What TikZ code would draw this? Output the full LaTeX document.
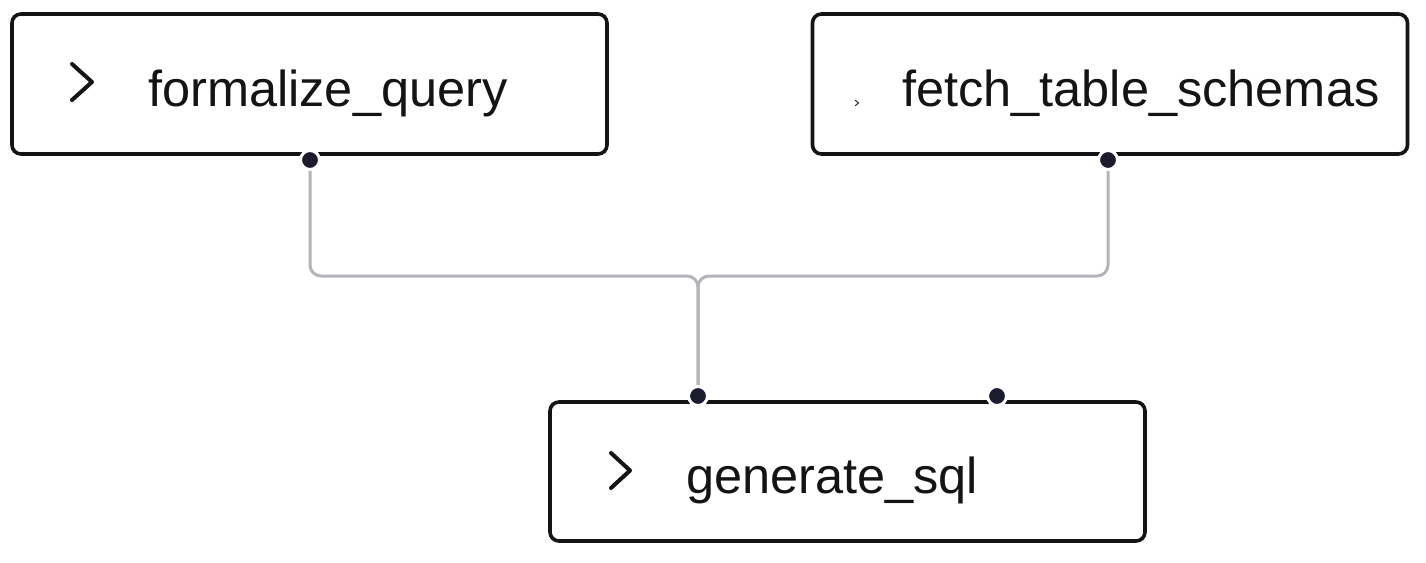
\documentclass[tikz,border=0pt]{standalone}
\usepackage{fontspec}
\setmainfont{Liberation Sans}
\definecolor{edgegray}{HTML}{B3B3BA}
\definecolor{dotnavy}{HTML}{1C1C2E}
\definecolor{inkc}{HTML}{141414}
\begin{document}
\begin{tikzpicture}[x=1pt,y=-1pt,
  box/.style={draw=inkc, line width=3.6pt, rounded corners=9pt, fill=white, minimum width=595pt, minimum height=140pt, inner sep=0pt},
  lbl/.style={anchor=base west, inner sep=0pt, text=inkc, font=\fontsize{50.5}{60}\selectfont},
  port/.style={circle, fill=dotnavy, draw=white, line width=3pt, minimum size=19pt, inner sep=0pt},
  edge/.style={draw=edgegray, line width=3pt, rounded corners=11pt},
  chev/.style={draw=inkc, line width=4pt, line cap=round, line join=round}]
\useasboundingbox[fill=white] (0,0) rectangle (1426,562);
% boxes
\node[box] (fq) at (309.5,84) {};
\node[box] (ft) at (1110,84) {};
\node[box, minimum height=139pt] (gs) at (847.5,471.5) {};
% labels
\node[lbl] (fqt) at (148,106) {formalize\_query};
\node[lbl] (ftt) at (902,106) {fetch\_table\_schemas};
\node[lbl] (gst) at (686,493) {generate\_sql};
% chevrons
\draw[chev] (72,64) -- (92,82) -- (72,100);
\draw[chev] (611,453) -- (630,470.5) -- (611,488);
\draw[draw=inkc, line width=0.9pt, line cap=round, line join=round] (855.5,100.5) -- (858.5,103) -- (855.5,105.5);
% connectors
\coordinate (j) at (698,276);
\coordinate (fqo) at (310,160);
\coordinate (fto) at (1108,160);
\coordinate (gsi) at (698,396);
\path[edge] (fqo) |- (j) -- (gsi);
\path[edge] (fto) |- (j) -- (gsi);
% ports on top
\node[port] (fqp) at (fqo) {};
\node[port] (ftp) at (fto) {};
\node[port] (gsp) at (gsi) {};
\node[port] (gsp2) at (997,396) {};
\end{tikzpicture}
\end{document}
